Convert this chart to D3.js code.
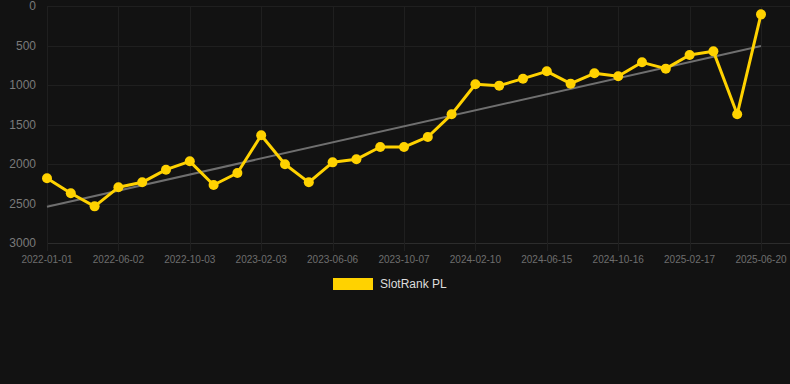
<!DOCTYPE html>
<html>
<head>
<meta charset="utf-8">
<script src="https://cdn.jsdelivr.net/npm/d3@7"></script>
<style>
  body { margin: 0; background: #121212; }
  svg { display: block; }
</style>
</head>
<body>
<div id="chart"></div>
<script>
var width = 790;
var height = 384;

// categories (every 3rd label is shown on the axis)
var dates = [
  "2022-01-01", "2022-02-20", "2022-04-12", "2022-06-02", "2022-07-13", "2022-08-23",
  "2022-10-03", "2022-11-13", "2022-12-24", "2023-02-03", "2023-03-16", "2023-04-26",
  "2023-06-06", "2023-07-17", "2023-08-27", "2023-10-07", "2023-11-18", "2023-12-30",
  "2024-02-10", "2024-03-22", "2024-05-03", "2024-06-15", "2024-07-26", "2024-09-05",
  "2024-10-16", "2024-11-26", "2025-01-07", "2025-02-17", "2025-03-30", "2025-05-10",
  "2025-06-20"
];
var ranks = [
  2181, 2371, 2536, 2295, 2232, 2072, 1966, 2266, 2114, 1637, 2004, 2232,
  1979, 1941, 1785, 1785, 1658, 1371, 991, 1008, 920, 827, 983, 852,
  890, 713, 793, 620, 574, 1371, 106
];
var trend = [2540, 506];   // trend line at first and last date
var yTicks = [0, 500, 1000, 1500, 2000, 2500, 3000];
var seriesName = "SlotRank PL";

var margin = { left: 47, right: 29, top: 6, bottom: 141 };

var svg = d3.select("#chart").append("svg")
    .attr("width", width)
    .attr("height", height)
    .style("background", "#121212");

var x = d3.scalePoint()
    .domain(dates)
    .range([margin.left, width - margin.right]);

var y = d3.scaleLinear()
    .domain([0, 3000])
    .range([margin.top, height - margin.bottom]);

var shownDates = dates.filter(function(d, i) { return i % 3 === 0; });

// horizontal grid
svg.append("g")
    .selectAll("line")
    .data(yTicks)
    .enter().append("line")
      .attr("x1", margin.left)
      .attr("x2", width)
      .attr("y1", function(d) { return Math.round(y(d)) + 0.5; })
      .attr("y2", function(d) { return Math.round(y(d)) + 0.5; })
      .attr("stroke", function(d) { return d === 3000 ? "#2c2c2c" : "#1f1f1f"; })
      .attr("stroke-width", 1);

// vertical grid
svg.append("g")
    .selectAll("line")
    .data(shownDates)
    .enter().append("line")
      .attr("x1", function(d) { return Math.round(x(d)) + 0.5; })
      .attr("x2", function(d) { return Math.round(x(d)) + 0.5; })
      .attr("y1", margin.top)
      .attr("y2", y(3000) + 8)
      .attr("stroke", "#1f1f1f")
      .attr("stroke-width", 1);

// y labels
svg.append("g")
    .selectAll("text")
    .data(yTicks)
    .enter().append("text")
      .attr("x", 36)
      .attr("y", function(d) { return y(d); })
      .attr("dy", "0.35em")
      .attr("text-anchor", "end")
      .attr("fill", "#7a7a7a")
      .style("font", "12px 'Liberation Sans', Arial, sans-serif")
      .text(function(d) { return d; });

// x labels
svg.append("g")
    .selectAll("text")
    .data(shownDates)
    .enter().append("text")
      .attr("x", function(d) { return x(d); })
      .attr("y", y(3000) + 20)
      .attr("text-anchor", "middle")
      .attr("fill", "#6e6e6e")
      .style("font", "10px 'Liberation Sans', Arial, sans-serif")
      .text(function(d) { return d; });

// trend line
svg.append("line")
    .attr("x1", x(dates[0]))
    .attr("x2", x(dates[dates.length - 1]))
    .attr("y1", y(trend[0]))
    .attr("y2", y(trend[1]))
    .attr("stroke", "#6f6f6f")
    .attr("stroke-width", 2);

var line = d3.line()
    .x(function(d, i) { return x(dates[i]); })
    .y(function(d) { return y(d); });

svg.append("path")
    .datum(ranks)
    .attr("d", line)
    .attr("fill", "none")
    .attr("stroke", "#ffd200")
    .attr("stroke-width", 3)
    .attr("stroke-linejoin", "round");

svg.append("g")
    .selectAll("circle")
    .data(ranks)
    .enter().append("circle")
      .attr("cx", function(d, i) { return x(dates[i]); })
      .attr("cy", function(d) { return y(d); })
      .attr("r", 5)
      .attr("fill", "#ffd200");

// legend
var legend = svg.append("g").attr("transform", "translate(333,278)");
legend.append("rect")
    .attr("width", 40)
    .attr("height", 12)
    .attr("fill", "#ffd200");
legend.append("text")
    .attr("x", 47)
    .attr("y", 6)
    .attr("dy", "0.35em")
    .attr("fill", "#dddddd")
    .style("font", "12px 'Liberation Sans', Arial, sans-serif")
    .text(seriesName);
</script>
</body>
</html>
